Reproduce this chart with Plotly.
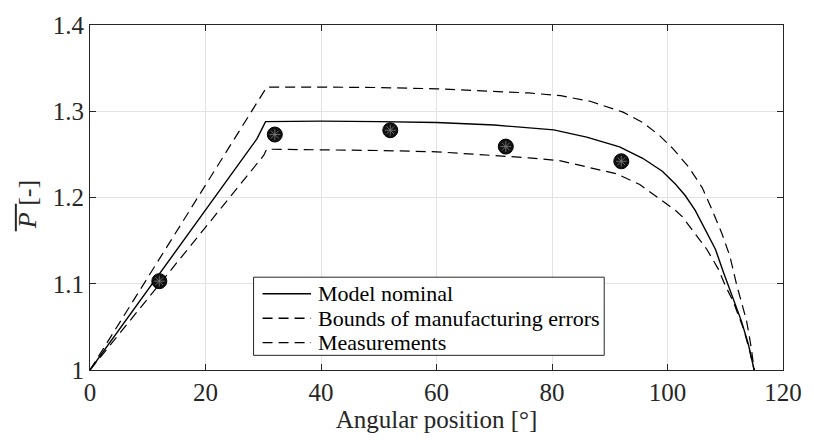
import plotly.graph_objects as go

# Nominal model curve
x_nom = [0, 12, 28.9, 30.4, 40, 50, 60, 70, 75, 80.3, 86.0, 91.7, 95.7, 99.1, 101.4, 103.1, 104.8, 106.5, 108.3, 109.7, 111.1, 112.8, 114.0, 115.0]
y_nom = [1.0, 1.111, 1.268, 1.288, 1.2885, 1.288, 1.287, 1.284, 1.2815, 1.2784, 1.270, 1.2587, 1.2455, 1.2304, 1.2153, 1.202, 1.185, 1.164, 1.140, 1.113, 1.087, 1.0567, 1.030, 1.0]

# Upper bound of manufacturing errors
x_up = [0, 15, 29.9, 30.6, 40, 50, 60, 70, 76, 81.5, 86.6, 92.3, 95.7, 98.6, 100.9, 103.7, 106.0, 107.7, 109.4, 110.8, 112.0, 113.0, 113.7, 114.5, 115.0]
y_up = [1.0, 1.160, 1.320, 1.328, 1.328, 1.3275, 1.326, 1.3235, 1.3212, 1.318, 1.3116, 1.299, 1.287, 1.272, 1.257, 1.235, 1.2115, 1.186, 1.1586, 1.132, 1.098, 1.074, 1.0567, 1.026, 1.0]

# Lower bound of manufacturing errors
x_lo = [0, 15, 30.1, 30.6, 40, 50, 60, 70, 76, 81.5, 86.6, 91.2, 95.2, 99.1, 101.4, 102.6, 104.3, 106.8, 108.8, 110.0, 111.4, 113.1, 114.2, 115.0]
y_lo = [1.0, 1.124, 1.249, 1.256, 1.2555, 1.2545, 1.253, 1.249, 1.246, 1.2425, 1.235, 1.2274, 1.215, 1.1964, 1.185, 1.1775, 1.1624, 1.140, 1.117, 1.098, 1.079, 1.049, 1.023, 1.0]

# Measurements
x_meas = [12, 32, 52, 72, 92]
y_meas = [1.103, 1.273, 1.278, 1.259, 1.242]

legend_labels = ["Model nominal", "Bounds of manufacturing errors", "Measurements"]
legend_dashes = ["solid", "10px,6px", "10px,6px"]

FONT = "Liberation Serif"
AX = "#262626"

fig = go.Figure()
fig.add_trace(go.Scatter(x=x_nom, y=y_nom, mode="lines", name=legend_labels[0],
                         line=dict(color="black", width=1.4)))
fig.add_trace(go.Scatter(x=x_up, y=y_up, mode="lines", name=legend_labels[1],
                         line=dict(color="black", width=1.2, dash="10px,6px")))
fig.add_trace(go.Scatter(x=x_lo, y=y_lo, mode="lines", name=legend_labels[1],
                         line=dict(color="black", width=1.2, dash="10px,6px")))
fig.add_trace(go.Scatter(x=x_meas, y=y_meas, mode="markers", name=legend_labels[2],
                         marker=dict(symbol="circle", size=15, color="#111111",
                                     line=dict(color="black", width=1))))
fig.add_trace(go.Scatter(x=x_meas, y=y_meas, mode="markers", name=legend_labels[2],
                         marker=dict(symbol="asterisk-open", size=9, color="#808080",
                                     line=dict(color="#808080", width=0.8))))

axfont = dict(family=FONT, size=25, color=AX)
fig.update_layout(
    width=814, height=440,
    margin=dict(l=90, r=22, t=17, b=70),
    paper_bgcolor="white", plot_bgcolor="white",
    font=axfont,
    showlegend=False,
    xaxis=dict(range=[0, 120], tickvals=[0, 20, 40, 60, 80, 100, 120],
               showgrid=True, gridcolor="#e3e3e3", gridwidth=1,
               showline=True, linecolor=AX, linewidth=1, mirror="ticks",
               ticks="inside", ticklen=6, tickcolor=AX, zeroline=False,
               tickfont=axfont,
               title=dict(text="Angular position [°]", font=axfont, standoff=4)),
    yaxis=dict(range=[1, 1.4], tickvals=[1, 1.1, 1.2, 1.3, 1.4],
               ticktext=["1", "1.1", "1.2", "1.3", "1.4"],
               showgrid=True, gridcolor="#e3e3e3", gridwidth=1,
               showline=True, linecolor=AX, linewidth=1, mirror="ticks",
               ticks="inside", ticklen=6, tickcolor=AX, zeroline=False,
               tickfont=axfont),
)

# y-axis title with overlined P
fig.add_annotation(xref="paper", yref="paper", x=-0.0897, y=0.48,
                   xanchor="center", yanchor="middle",
                   text="<i>P</i> [-]", textangle=-90, showarrow=False,
                   font=dict(family=FONT, size=26, color=AX))
fig.add_shape(type="line", xref="paper", yref="paper",
              x0=-0.107, x1=-0.107, y0=0.402, y1=0.482,
              line=dict(color=AX, width=2))

# legend box drawn by hand (MATLAB style)
fig.add_shape(type="rect", xref="paper", yref="paper",
              x0=0.236, x1=0.742, y0=0.0425, y1=0.269,
              line=dict(color=AX, width=1), fillcolor="white", layer="above")
row_y = [0.221, 0.150, 0.0793]
for lab, dash, ry in zip(legend_labels, legend_dashes, row_y):
    fig.add_shape(type="line", xref="paper", yref="paper",
                  x0=0.249, x1=0.319, y0=ry, y1=ry,
                  line=dict(color="black", width=1.4, dash=dash), layer="above")
    fig.add_annotation(xref="paper", yref="paper", x=0.326, y=ry,
                       xanchor="left", yanchor="middle", text=lab, showarrow=False,
                       font=dict(family=FONT, size=22, color="black"))

fig.write_html("out.html")
